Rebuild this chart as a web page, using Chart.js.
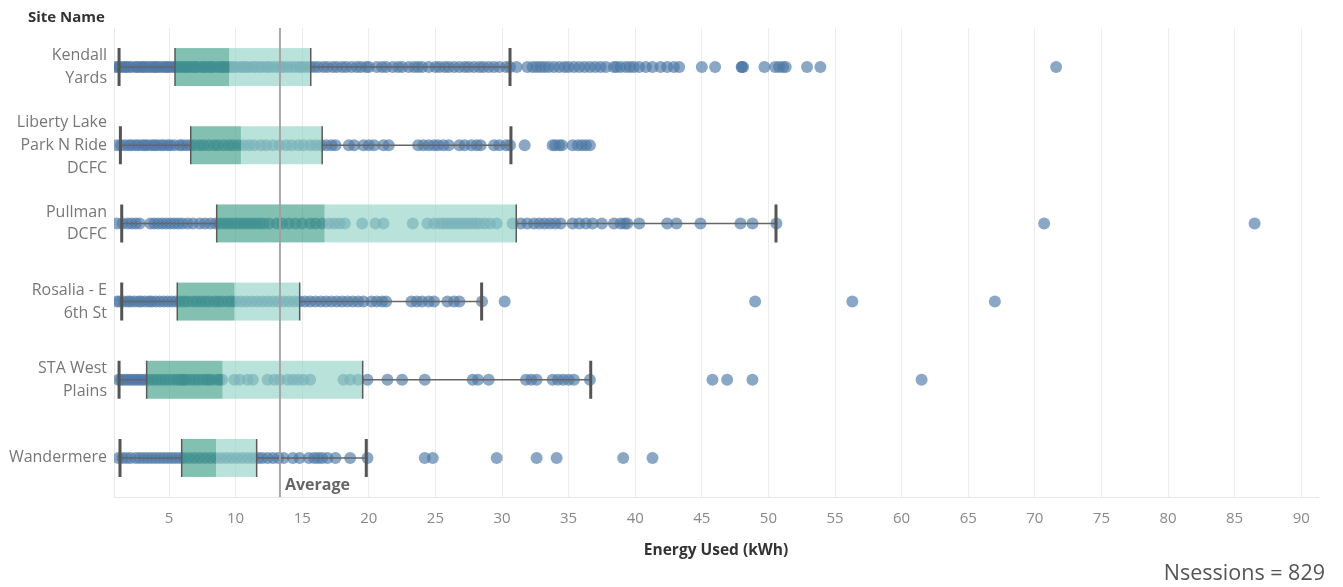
<!DOCTYPE html>
<html>
<head>
<meta charset="utf-8">
<script src="https://cdn.jsdelivr.net/npm/chart.js@4.4.1/dist/chart.umd.min.js"></script>
<style>
  html, body { margin: 0; padding: 0; background: #fff; }
  #wrap { position: relative; width: 1343px; height: 587px; font-family: "Open Sans", Lato, sans-serif; }
  #c { position: absolute; left: 0; top: 0; }
  #siteName { position: absolute; left: 28px; top: 6px; font-weight: bold; font-size: 15px; color: #333; }
  #nsess { position: absolute; right: 18px; top: 557px; font-size: 21.5px; color: #555; }
</style>
</head>
<body>
<div id="wrap">
  <canvas id="c" width="1343" height="587"></canvas>
  <div id="siteName">Site Name</div>
  <div id="nsess">Nsessions = 829</div>
</div>
<script>
// ---- categories ----
const siteLabels = [
  ["Kendall", "Yards"],
  ["Liberty Lake", "Park N Ride", "DCFC"],
  ["Pullman", "DCFC"],
  ["Rosalia - E", "6th St"],
  ["STA West", "Plains"],
  ["Wandermere"]
];
const xTickValues = [5, 10, 15, 20, 25, 30, 35, 40, 45, 50, 55, 60, 65, 70, 75, 80, 85, 90];

// ---- box plot statistics (kWh) ----
const lowerWhisker = [1.25, 1.35, 1.45, 1.45, 1.25, 1.32];
const q1Values     = [5.45, 6.63, 8.58, 5.62, 3.32, 5.95];
const medianValues = [9.53, 10.4, 16.69, 9.93, 9.03, 8.53];
const q3Values     = [15.64, 16.5, 31.07, 14.81, 19.54, 11.58];
const upperWhisker = [30.6, 30.67, 50.57, 28.47, 36.66, 19.81];
const averageValue = 13.33;

// ---- individual sessions (kWh) ----
const kendallYards = [1.0, 1.2, 1.3, 1.5, 1.7, 1.8, 2.0, 2.2, 2.5, 2.6, 2.8, 3.0, 3.1, 3.3, 3.5, 3.7, 3.9, 4.0, 4.2, 4.4,
  4.6, 4.8, 4.9, 5.1, 5.3, 5.5, 5.6, 5.8, 6.0, 6.2, 6.3, 6.5, 6.7, 6.9, 7.0, 7.2, 7.5, 7.6, 7.8, 8.0,
  8.2, 8.3, 8.6, 8.8, 9.0, 9.1, 9.3, 9.5, 9.7, 9.9, 10.1, 10.4, 10.6, 10.8, 11.0, 11.3, 11.5, 11.8, 12.0, 12.3,
  12.5, 12.8, 13.1, 13.4, 13.6, 13.9, 14.2, 14.5, 14.8, 15.0, 15.3, 15.6, 15.9, 16.2, 16.6, 16.9, 17.3, 17.6, 18.0, 18.3,
  18.7, 19.1, 19.4, 19.8, 20.0, 20.6, 21.0, 21.3, 21.8, 22.2, 22.5, 23.0, 23.4, 23.7, 24.0, 24.5, 25.0, 25.3, 25.7, 26.0,
  26.4, 26.8, 27.2, 27.5, 27.9, 28.3, 28.6, 29.0, 29.4, 29.8, 30.3, 30.6, 31.1, 31.9, 32.3, 32.6, 32.9, 33.2, 33.5, 33.9,
  34.3, 34.7, 35.0, 35.4, 35.8, 36.2, 36.6, 37.0, 37.4, 37.8, 38.4, 38.6, 38.9, 39.3, 39.6, 39.9, 40.3, 40.8, 41.3, 41.9,
  42.4, 42.9, 43.3, 45.0, 46.0, 48.0, 48.0, 48.1, 49.7, 50.5, 50.8, 51.1, 51.3, 52.9, 53.9, 71.6];
const libertyLake = [1.1, 1.4, 1.7, 2.0, 2.2, 2.5, 2.7, 3.0, 3.2, 3.4, 3.7, 3.9, 4.1, 4.4, 4.6, 4.9, 5.1, 5.4, 5.8, 6.0,
  6.3, 6.6, 6.9, 7.3, 7.6, 8.0, 8.4, 8.7, 9.1, 9.5, 9.8, 10.2, 10.6, 11.0, 11.4, 11.9, 12.3, 12.8, 13.3, 13.8,
  14.2, 14.7, 15.1, 15.6, 16.0, 16.4, 16.8, 17.2, 17.5, 18.5, 18.9, 19.6, 20.0, 20.4, 21.1, 21.5, 23.7, 24.1, 24.5, 24.9,
  25.2, 25.6, 26.0, 26.8, 27.2, 27.7, 28.1, 28.4, 29.4, 29.8, 30.3, 30.6, 31.7, 33.8, 34.0, 34.3, 34.5, 35.3, 35.7, 36.0,
  36.3, 36.6];
const pullmanDCFC = [1.1, 1.5, 1.9, 2.2, 2.5, 2.8, 3.6, 3.9, 4.2, 4.5, 4.8, 5.1, 5.4, 5.7, 6.0, 6.4, 6.8, 7.3, 7.7, 8.1,
  8.5, 8.8, 9.1, 9.4, 9.7, 10.0, 10.3, 10.6, 10.9, 11.2, 11.5, 11.8, 12.1, 12.5, 13.1, 13.5, 14.0, 14.5, 15.0, 15.6,
  16.0, 16.5, 17.0, 17.4, 17.8, 18.2, 19.5, 20.5, 21.1, 23.3, 24.4, 24.9, 25.3, 25.6, 25.9, 26.2, 26.5, 26.8, 27.1, 27.4,
  27.7, 28.0, 28.3, 28.7, 29.1, 29.6, 30.8, 31.4, 31.9, 32.4, 32.8, 33.2, 33.6, 34.0, 34.4, 35.3, 35.8, 36.3, 36.8, 37.5,
  38.4, 38.9, 39.2, 39.4, 40.3, 42.4, 43.1, 44.9, 47.9, 48.8, 50.6, 70.7, 86.5];
const rosaliaE6th = [1.1, 1.3, 1.6, 1.9, 2.1, 2.4, 2.7, 2.9, 3.2, 3.5, 3.7, 4.0, 4.3, 4.6, 4.9, 5.2, 5.5, 5.8, 6.1, 6.4,
  6.8, 7.1, 7.4, 7.7, 8.0, 8.4, 8.7, 9.0, 9.4, 9.7, 10.0, 10.4, 10.8, 11.2, 11.6, 12.0, 12.4, 12.8, 13.2, 13.6,
  14.0, 14.4, 14.8, 15.2, 15.6, 16.0, 16.4, 16.8, 17.2, 17.6, 18.0, 18.4, 18.8, 19.2, 19.6, 20.2, 20.6, 21.0, 21.3, 23.2,
  23.6, 24.0, 24.5, 24.9, 25.9, 26.4, 26.8, 28.5, 30.2, 49.0, 56.3, 67.0];
const staWestPlains = [1.2, 1.4, 1.6, 1.8, 2.0, 2.2, 2.4, 2.6, 2.8, 3.0, 3.2, 3.5, 3.8, 4.1, 4.4, 4.7, 5.0, 5.3, 5.6, 5.8,
  6.0, 6.1, 6.3, 6.6, 6.9, 7.2, 7.5, 7.8, 8.0, 8.2, 8.6, 8.8, 9.0, 9.9, 10.3, 10.9, 11.3, 12.4, 12.9, 13.3,
  13.9, 14.3, 14.7, 15.1, 15.6, 18.1, 18.6, 19.2, 19.9, 21.4, 22.5, 24.2, 27.8, 28.2, 29.0, 31.8, 32.2, 32.6, 33.8, 34.2,
  34.6, 35.0, 35.4, 36.6, 45.8, 46.9, 48.8, 61.5];
const wandermere = [1.2, 1.5, 1.8, 2.1, 2.5, 2.8, 3.1, 3.4, 3.7, 4.0, 4.3, 4.6, 4.9, 5.2, 5.5, 5.8, 6.1, 6.5, 6.9, 7.3,
  7.7, 8.1, 8.5, 8.9, 9.3, 9.7, 10.1, 10.5, 10.9, 11.3, 11.7, 12.0, 12.4, 12.8, 13.2, 13.6, 14.3, 14.8, 15.5, 15.9,
  16.2, 16.5, 16.9, 17.5, 18.6, 19.9, 24.2, 24.8, 29.6, 32.6, 34.1, 39.1, 41.3];

const sessionsBySite = [kendallYards, libertyLake, pullmanDCFC, rosaliaE6th, staWestPlains, wandermere];

const FONT = '"Open Sans", Lato, sans-serif';

const boxPlugin = {
  id: 'boxes',
  afterDatasetsDraw(chart) {
    const ctx = chart.ctx;
    const xs = chart.scales.x, ys = chart.scales.y;
    const area = chart.chartArea;
    const half = 19;
    ctx.save();
    for (let i = 0; i < siteLabels.length; i++) {
      const yc = ys.getPixelForValue(i);
      const xLo = xs.getPixelForValue(lowerWhisker[i]);
      const xQ1 = xs.getPixelForValue(q1Values[i]);
      const xMed = xs.getPixelForValue(medianValues[i]);
      const xQ3 = xs.getPixelForValue(q3Values[i]);
      const xHi = xs.getPixelForValue(upperWhisker[i]);
      ctx.fillStyle = 'rgba(57,157,132,0.63)';
      ctx.fillRect(xQ1, yc - half, xMed - xQ1, half * 2);
      ctx.fillStyle = 'rgba(145,211,197,0.64)';
      ctx.fillRect(xMed, yc - half, xQ3 - xMed, half * 2);
      ctx.strokeStyle = '#666';
      ctx.lineWidth = 1.5;
      ctx.beginPath();
      ctx.moveTo(xLo, yc); ctx.lineTo(xQ1, yc);
      ctx.moveTo(xQ3, yc); ctx.lineTo(xHi, yc);
      ctx.stroke();
      ctx.strokeStyle = '#5a5a5a';
      ctx.lineWidth = 1.5;
      ctx.beginPath();
      ctx.moveTo(xQ1, yc - half); ctx.lineTo(xQ1, yc + half);
      ctx.moveTo(xQ3, yc - half); ctx.lineTo(xQ3, yc + half);
      ctx.stroke();
      ctx.strokeStyle = '#555';
      ctx.lineWidth = 3;
      ctx.beginPath();
      ctx.moveTo(xLo, yc - half); ctx.lineTo(xLo, yc + half);
      ctx.moveTo(xHi, yc - half); ctx.lineTo(xHi, yc + half);
      ctx.stroke();
    }
    const xa = xs.getPixelForValue(averageValue);
    ctx.strokeStyle = 'rgba(160,160,160,0.9)';
    ctx.lineWidth = 2;
    ctx.beginPath();
    ctx.moveTo(xa, area.top); ctx.lineTo(xa, area.bottom);
    ctx.stroke();
    ctx.fillStyle = '#666';
    ctx.font = 'bold 16px ' + FONT;
    ctx.textAlign = 'left';
    ctx.textBaseline = 'alphabetic';
    ctx.fillText('Average', xa + 5, area.bottom - 7);
    ctx.restore();
  }
};

const datasets = sessionsBySite.map((vals, i) => ({
  label: siteLabels[i].join(' '),
  data: vals.map(v => ({ x: v, y: i })),
  pointRadius: 6,
  pointHoverRadius: 6,
  pointBackgroundColor: 'rgba(78,121,167,0.66)',
  pointBorderWidth: 0,
  showLine: false
}));

new Chart(document.getElementById('c'), {
  type: 'scatter',
  data: { datasets },
  options: {
    responsive: false,
    devicePixelRatio: 1,
    animation: false,
    layout: { padding: { top: 28, right: 25, left: 0, bottom: 0 } },
    plugins: { legend: { display: false }, tooltip: { enabled: false } },
    scales: {
      x: {
        type: 'linear',
        position: 'bottom',
        min: 0.87,
        max: 91.26,
        afterBuildTicks: s => { s.ticks = xTickValues.map(v => ({ value: v })); },
        afterFit: s => { s.height = 90; },
        grid: { color: '#ececec', lineWidth: 1, drawTicks: false },
        border: { display: true, color: '#e8e8e8' },
        ticks: { color: '#888', font: { family: FONT, size: 15 }, padding: 13 },
        title: {
          display: true, text: 'Energy Used (kWh)', color: '#333',
          font: { family: FONT, size: 15.5, weight: 'bold' }, padding: { top: 0, bottom: 27 }
        }
      },
      y: {
        type: 'linear',
        reverse: true,
        min: -0.5,
        max: 5.5,
        afterBuildTicks: s => { s.ticks = siteLabels.map((_, i) => ({ value: i })); },
        afterFit: s => { s.width = 114; },
        grid: { drawOnChartArea: false, drawTicks: false },
        border: { display: true, color: '#e8e8e8' },
        ticks: {
          color: '#777', padding: 7,
          font: { family: FONT, size: 16, lineHeight: 1.42 },
          callback: v => siteLabels[v]
        }
      }
    }
  },
  plugins: [boxPlugin]
});
</script>
</body>
</html>
